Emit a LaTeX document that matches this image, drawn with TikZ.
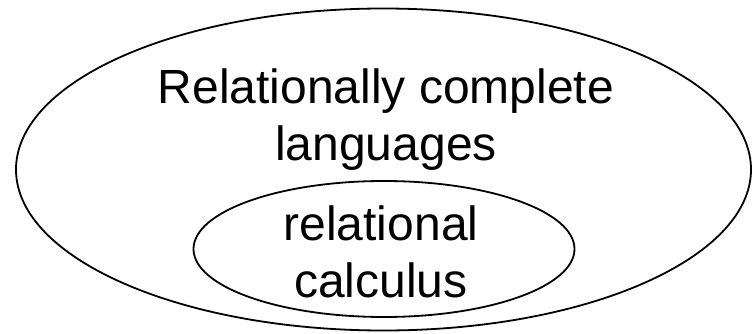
\documentclass[tikz,border=0pt]{standalone}
\usepackage{fontspec}
\setmainfont{Liberation Sans}
\usetikzlibrary{shapes.geometric}
\definecolor{inkblk}{HTML}{000000}

\tikzset{
  setring/.style={draw=inkblk, ellipse, line width=1.8pt, inner sep=0pt},
  setlabel/.style={text=inkblk, align=center, font=\fontsize{48}{57}\selectfont}
}

\begin{document}
\begin{tikzpicture}[x=1pt, y=1pt]

% Background
\useasboundingbox (0,0) rectangle (752,333);

% Outer set
\node[setring, minimum width=735pt, minimum height=322pt] (complete) at (383.5,163.5) {};
\node[setlabel] (completelbl) at (386,213.5) {Relationally complete\\languages};

% Inner set
\node[setring, minimum width=381pt, minimum height=136pt] (calculus) at (384,84) {};
\node[setlabel] (calculuslbl) at (381,81.5) {relational\\calculus};

\end{tikzpicture}
\end{document}
